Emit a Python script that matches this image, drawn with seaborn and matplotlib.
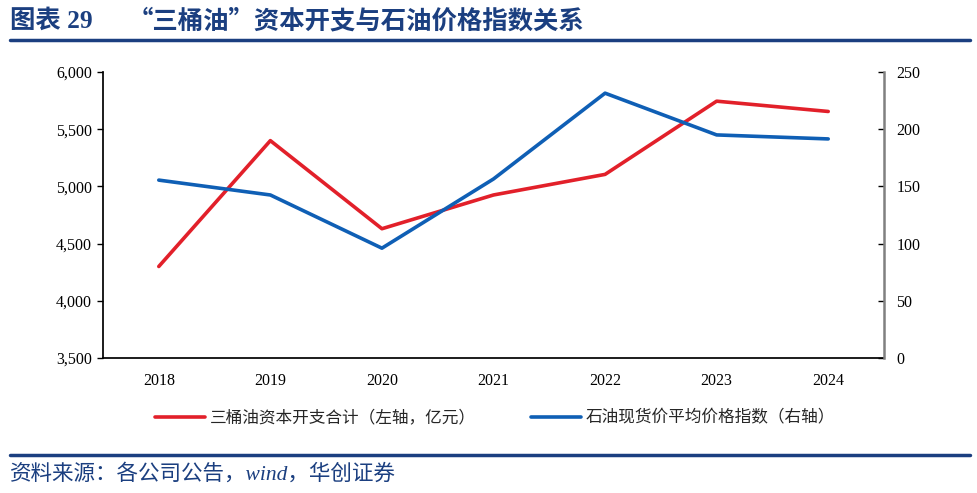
import matplotlib.pyplot as plt
import seaborn as sns
import pandas as pd
from matplotlib.ticker import FuncFormatter
from matplotlib.lines import Line2D

years = ["2018", "2019", "2020", "2021", "2022", "2023", "2024"]
capex = [4300, 5400, 4630, 4925, 5105, 5745, 5655]        # 左轴，亿元
oil_index = [155.5, 142.5, 96, 156.5, 231.5, 195, 191.5]  # 右轴

df = pd.DataFrame({"year": years, "capex": capex, "oil": oil_index})

sns.set_theme(style="white")
plt.rcParams["font.family"] = ["Liberation Serif", "Noto Sans CJK SC", "DejaVu Sans"]
cjk = ["Noto Sans CJK SC", "DejaVu Sans"]
mixed = ["Liberation Serif", "Noto Sans CJK SC", "DejaVu Sans"]

red = "#E2202A"
blue = "#0F5FB5"
navy = "#1B3F80"

fig = plt.figure(figsize=(9.78, 4.93), dpi=100)
ax = fig.add_axes([103 / 978, 1 - 358 / 493, 781 / 978, 286 / 493])
ax2 = ax.twinx()

sns.lineplot(data=df, x="year", y="capex", ax=ax, color=red, lw=2.6, sort=False)
sns.lineplot(data=df, x="year", y="oil", ax=ax2, color=blue, lw=2.6, sort=False)

ax.set_xlim(-0.5, 6.5)
ax.set_ylim(3500, 6000)
ax.set_yticks(range(3500, 6001, 500))
ax.yaxis.set_major_formatter(FuncFormatter(lambda v, p: f"{int(v):,}"))
ax2.set_ylim(0, 250)
ax2.set_yticks(range(0, 251, 50))
ax.set_xlabel("")
ax.set_ylabel("")
ax2.set_ylabel("")

for a in (ax, ax2):
    a.spines["top"].set_visible(False)
    a.tick_params(labelsize=11.5, colors="black")
ax.spines["right"].set_visible(False)
ax.spines["left"].set_color("black")
ax.spines["bottom"].set_color("black")
ax2.spines["left"].set_visible(False)
ax2.spines["bottom"].set_visible(False)
ax2.spines["right"].set_color("#808080")
ax2.spines["right"].set_linewidth(1.8)
ax.tick_params(axis="y", direction="out", length=4, width=1, left=True, pad=4)
ax.tick_params(axis="x", length=0, pad=11)
ax2.tick_params(axis="y", direction="in", length=4, width=1, right=True, pad=9)

# legend
handles = [Line2D([0], [0], color=red, lw=2.6), Line2D([0], [0], color=blue, lw=2.6)]
fig.legend(handles, ["三桶油资本开支合计（左轴，亿元）", "石油现货价平均价格指数（右轴）"],
           loc="center", bbox_to_anchor=(495 / 978, 1 - 418 / 493), ncol=2, frameon=False,
           prop={"family": cjk, "size": 12}, handlelength=3.0, handletextpad=0.3,
           columnspacing=3.3)

# title & source
fig.text(10 / 978, 1 - 21 / 493, "图表 29", color=navy, fontsize=18.3,
         fontweight="bold", family=mixed, va="center")
fig.text(128 / 978, 1 - 21 / 493, "“三桶油”资本开支与石油价格指数关系", color=navy,
         fontsize=18.3, fontweight="bold", family=cjk, va="center")
fig.add_artist(Line2D([10 / 978, 970 / 978], [1 - 40 / 493] * 2, color=navy, lw=2.5))
fig.add_artist(Line2D([10 / 978, 970 / 978], [1 - 455 / 493] * 2, color=navy, lw=2.5))
fig.text(10 / 978, 1 - 474 / 493, "资料来源：各公司公告，wind，华创证券",
         color=navy, fontsize=15.5, style="italic", family=mixed, va="center")

fig.savefig("out.png", dpi=100)
